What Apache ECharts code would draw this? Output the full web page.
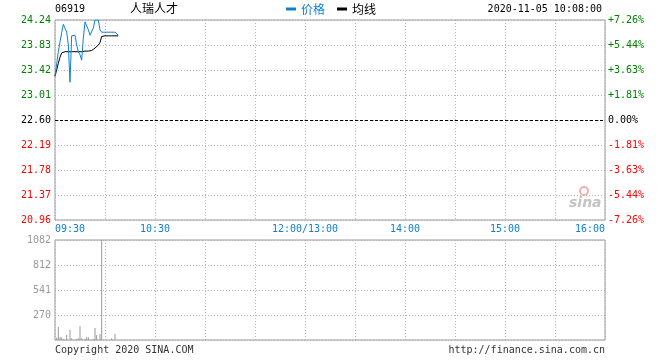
<!DOCTYPE html>
<html>
<head>
<meta charset="utf-8">
<script src="https://cdn.jsdelivr.net/npm/echarts@6/dist/echarts.min.js"></script>
<style>html,body{margin:0;padding:0;background:#fff}#c{width:660px;height:360px}</style>
</head>
<body>
<div id="c"></div>
<script>
// ---- data (09:30 .. 10:08, one point per minute) ----
const stockCode = '06919';
const stockName = '人瑞人才';
const timeStamp = '2020-11-05 10:08:00';
const prevClose = 22.60;
const priceStep = 0.41;
const priceVals = [23.31,23.52,23.72,23.88,24.03,24.17,24.19,24.04,23.83,23.22,
  23.98,23.99,23.99,23.83,23.72,23.67,23.58,23.94,24.21,24.24,
  24.08,23.99,23.99,24.11,24.24,24.24,24.24,24.08,24.04,24.04,
  24.04,24.04,24.04,24.04,24.04,24.04,24.04,24.03,23.99];
const avgVals = [23.32,23.42,23.53,23.63,23.70,23.72,23.72,23.72,23.72,23.72,
  23.72,23.72,23.72,23.72,23.72,23.72,23.72,23.72,23.73,23.73,
  23.73,23.73,23.74,23.75,23.78,23.81,23.83,23.87,23.97,23.98,
  23.98,23.98,23.98,23.98,23.98,23.98,23.98,23.98,23.98];
const volVals = [0,25,140,30,30,10,0,55,0,110,
  20,0,0,10,20,150,18,0,10,30,
  30,0,0,10,130,55,0,65,1082,0,
  0,0,0,0,18,0,65,0,0];
const priceTickLabels = ['20.96','21.37','21.78','22.19','22.60','23.01','23.42','23.83','24.24'];
const pctTickLabels = ['-7.26%','-5.44%','-3.63%','-1.81%','0.00%','+1.81%','+3.63%','+5.44%','+7.26%'];
const volMax = 1082;
const volTickLabels = ['', '270', '541', '812', '1082'];
const timeTickPos = [0, 60, 150, 210, 270, 330];
const timeTickText = ['09:30', '10:30', '12:00/13:00', '14:00', '15:00', '16:00'];
const totalMinutes = 330;

// ---- chart ----
const MONO = '"DejaVu Sans Mono", "Liberation Mono", monospace';
const CJK = '"Noto Sans CJK SC", sans-serif';
const BLUE = '#0f80d0';
const GREEN = '#008000';
const RED = '#ff0000';
const GRIDC = '#999';
const DOTC = '#b4b4b4';
const DOT = [1, 2];

const toStep = p => (p - prevClose) / priceStep;
const labelColor = v => v > 0.01 ? GREEN : (v < -0.01 ? RED : '#000');

const chart = echarts.init(document.getElementById('c'), null, {renderer: 'canvas'});
chart.setOption({
  animation: false,
  backgroundColor: '#fff',
  grid: [
    {left: 55, top: 20, width: 550, height: 200, show: true, borderColor: GRIDC, borderWidth: 1},
    {left: 55, top: 240, width: 550, height: 100, show: true, borderColor: GRIDC, borderWidth: 1}
  ],
  legend: {
    left: 281, top: -2, icon: 'rect', itemWidth: 10, itemHeight: 3, itemGap: 12,
    textStyle: {fontFamily: CJK, fontSize: 12},
    data: [
      {name: '价格', textStyle: {color: BLUE}, itemStyle: {color: BLUE}},
      {name: '均线', textStyle: {color: '#000'}, itemStyle: {color: '#000'}}
    ]
  },
  xAxis: [
    {
      gridIndex: 0, type: 'value', min: 0, max: totalMinutes, interval: 30,
      axisLine: {show: false}, axisTick: {show: false},
      splitLine: {show: true, lineStyle: {color: DOTC, type: DOT}},
      axisLabel: {
        show: true, margin: 4, color: BLUE, fontFamily: MONO, fontSize: 10,
        alignMinLabel: 'left', alignMaxLabel: 'right',
        formatter: v => { const k = timeTickPos.indexOf(Math.round(v)); return k >= 0 ? timeTickText[k] : ''; }
      }
    },
    {
      gridIndex: 1, type: 'value', min: 0, max: totalMinutes, interval: 30,
      axisLine: {show: false}, axisTick: {show: false}, axisLabel: {show: false},
      splitLine: {show: true, lineStyle: {color: DOTC, type: DOT}}
    }
  ],
  yAxis: [
    {
      gridIndex: 0, type: 'value', min: -4, max: 4, interval: 1,
      axisLine: {show: false}, axisTick: {show: false},
      splitLine: {show: true, lineStyle: {color: DOTC, type: DOT}},
      axisLabel: {
        margin: 4, fontFamily: MONO, fontSize: 10, padding: [0, 0, 4, 0],
        formatter: v => priceTickLabels[Math.round(v) + 4],
        color: v => labelColor(v)
      }
    },
    {
      gridIndex: 0, type: 'value', min: -4, max: 4, interval: 1, position: 'right',
      axisLine: {show: false}, axisTick: {show: false}, splitLine: {show: false},
      axisLabel: {
        margin: 3, fontFamily: MONO, fontSize: 10, padding: [0, 0, 4, 0],
        formatter: v => pctTickLabels[Math.round(v) + 4],
        color: v => labelColor(v)
      }
    },
    {
      gridIndex: 1, type: 'value', min: 0, max: volMax, interval: volMax / 4,
      axisLine: {show: false}, axisTick: {show: false},
      splitLine: {show: true, lineStyle: {color: DOTC, type: DOT}},
      axisLabel: {
        margin: 4, fontFamily: MONO, fontSize: 10, color: '#999', padding: [0, 0, 4, 0],
        formatter: v => volTickLabels[Math.round(v / (volMax / 4))]
      }
    }
  ],
  series: [
    {
      name: '价格', type: 'line', xAxisIndex: 0, yAxisIndex: 0,
      data: priceVals.map((p, i) => [i, toStep(p)]),
      symbol: 'none', lineStyle: {color: BLUE, width: 1}, itemStyle: {color: BLUE},
      markLine: {
        silent: true, symbol: 'none', label: {show: false},
        lineStyle: {color: '#000', type: [3, 2], width: 1},
        data: [{yAxis: 0}]
      },
      z: 3
    },
    {
      name: '均线', type: 'line', xAxisIndex: 0, yAxisIndex: 0,
      data: avgVals.map((p, i) => [i, toStep(p)]),
      symbol: 'none', lineStyle: {color: '#000', width: 1}, itemStyle: {color: '#000'},
      z: 2
    },
    {
      name: '成交量', type: 'bar', xAxisIndex: 1, yAxisIndex: 2,
      data: volVals.map((v, i) => [i, v]),
      barWidth: 1, itemStyle: {color: '#999'}
    }
  ],
  graphic: [
    {type: 'text', left: 55, top: 4, style: {text: stockCode, font: '10px ' + MONO, fill: '#000'}},
    {type: 'text', left: 130, top: 2, style: {text: stockName, font: '12px ' + CJK, fill: '#000'}},
    {type: 'text', right: 58, top: 4, style: {text: timeStamp, font: '10px ' + MONO, fill: '#000'}},
    {type: 'text', left: 55, top: 345, style: {text: 'Copyright 2020 SINA.COM', font: '10px ' + MONO, fill: '#333'}},
    {type: 'text', right: 55, top: 345, style: {text: 'http://finance.sina.com.cn', font: '10px ' + MONO, fill: '#333'}},
    {type: 'circle', shape: {cx: 584, cy: 191, r: 4}, style: {fill: 'none', stroke: '#f4b0b0', lineWidth: 2}, silent: true},
    {type: 'text', left: 569, top: 196, style: {text: 'sina', font: 'italic bold 14px "DejaVu Sans", sans-serif', fill: '#c4c4c4'}, silent: true}
  ]
});
</script>
</body>
</html>
